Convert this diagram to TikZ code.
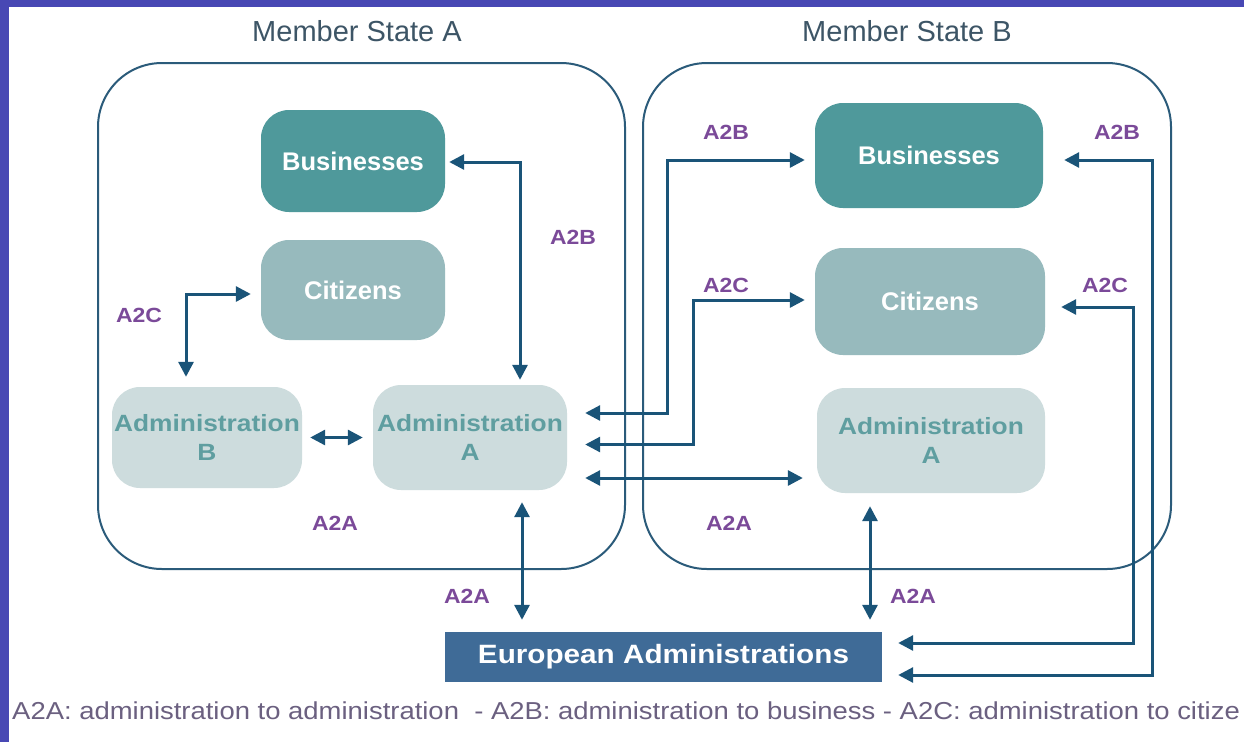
\documentclass[tikz,border=0pt]{standalone}
\usepackage{fontspec}
\setmainfont{Liberation Sans}
\newfontfamily\widefont{Liberation Sans}[FakeStretch=1.12]
\usetikzlibrary{arrows.meta,calc}
\definecolor{frameblue}{HTML}{4848B4}
\definecolor{stateline}{HTML}{2B5B7A}
\definecolor{busfill}{HTML}{4F999B}
\definecolor{citfill}{HTML}{97BABD}
\definecolor{admfill}{HTML}{CDDCDD}
\definecolor{admtext}{HTML}{5F9EA0}
\definecolor{arrowblue}{HTML}{1A5478}
\definecolor{labpurple}{HTML}{7B4A99}
\definecolor{eurfill}{HTML}{3F6B97}
\definecolor{titlegray}{HTML}{3D5566}
\definecolor{footgray}{HTML}{6B6080}
\tikzset{
  box/.style={rounded corners=28pt, inner sep=0pt, align=center},
  busbox/.style={box, fill=busfill, text=white, font=\fontsize{25.5}{30}\selectfont\bfseries},
  citbox/.style={box, fill=citfill, text=white, font=\fontsize{25.5}{30}\selectfont\bfseries},
  admbox/.style={box, fill=admfill, text=admtext, font=\widefont\fontsize{23.5}{29}\selectfont\bfseries},
  statebox/.style={draw=stateline, line width=2pt, rounded corners=64pt, inner sep=0pt},
  lab/.style={text=labpurple, font=\widefont\fontsize{20.5}{21}\selectfont\bfseries, inner sep=0pt},
  title/.style={text=titlegray, font=\fontsize{29}{30}\selectfont, inner sep=0pt},
  conn/.style={draw=arrowblue, line width=3pt, {Triangle[length=15pt,width=15pt]}-{Triangle[length=15pt,width=15pt]}},
}
\begin{document}
\begin{tikzpicture}[x=1pt,y=-1pt]
\useasboundingbox (0,0) rectangle (1244,742);
\fill[white] (0,0) rectangle (1244,742);
\fill[frameblue] (0,0) rectangle (9,742);
\fill[frameblue] (0,0) rectangle (1244,7);

% titles
\node[title] (tA) at (357,31) {Member State A};
\node[title] (tB) at (907,31) {Member State B};

% member state containers
\node[statebox, minimum width=527pt, minimum height=506pt] (stA) at (361.5,316) {};
\node[statebox, minimum width=528pt, minimum height=506pt] (stB) at (907,316) {};

% state A boxes
\node[busbox, minimum width=184pt, minimum height=102pt] (busA) at (353,161) {Businesses};
\node[citbox, minimum width=184pt, minimum height=100pt] (citA) at (353,290) {Citizens};
\node[admbox, minimum width=190pt, minimum height=101pt] (admB) at (207,437.5) {Administration\\B};
\node[admbox, minimum width=194pt, minimum height=105pt] (admA) at (470,437.5) {Administration\\A};

% state B boxes
\node[busbox, minimum width=228pt, minimum height=105pt] (busB) at (929,155.5) {Businesses};
\node[citbox, minimum width=230pt, minimum height=107pt] (citB) at (930,301.5) {Citizens};
\node[admbox, minimum width=228pt, minimum height=105pt] (admBB) at (931,440.5) {Administration\\A};

% European administrations
\node[fill=eurfill, text=white, font=\widefont\fontsize{26.5}{28}\selectfont\bfseries, minimum width=437pt, minimum height=50pt, inner sep=0pt] (eur) at (663.5,657) {European Administrations};

% connectors inside state A
\draw[conn, shorten <=10pt, shorten >=10pt] ($(citA.west)+(0,4)$) -| ($(admB.north)+(-21,0)$);
\draw[conn, shorten <=4pt, shorten >=5pt] ($(busA.east)+(0,1)$) -| ($(admA.north)+(50,0)$);
\draw[conn, shorten <=8pt, shorten >=10pt] (admB.east) -- (admA.west);

% to European administrations
\coordinate (vA) at ($(admA.south)+(52,0)$);
\coordinate (vB) at ($(admBB.south)+(-61,0)$);
\draw[conn, shorten <=12pt, shorten >=12pt] (vA) -- (vA |- eur.north);
\draw[conn, shorten <=13pt, shorten >=12pt] (vB) -- (vB |- eur.north);

% cross-border connectors
\draw[conn, shorten <=18pt, shorten >=10pt] ($(admA.east)+(0,-24.5)$) -| ($(busB.west)+(-147,4.5)$) -- ($(busB.west)+(0,4.5)$);
\draw[conn, shorten <=18pt, shorten >=10pt] ($(admA.east)+(0,7)$) -| ($(citB.west)+(-121,-1.5)$) -- ($(citB.west)+(0,-1.5)$);
\draw[conn, shorten <=18pt, shorten >=14pt] ($(admA.east)+(0,40.5)$) -- ($(admBB.west)+(0,37.5)$);

% right side to European administrations
\draw[conn, shorten <=21pt, shorten >=16pt] ($(busB.east)+(0,4.5)$) -| ($(eur.east)+(270,18)$) -- ($(eur.east)+(0,18)$);
\draw[conn, shorten <=16pt, shorten >=16pt] ($(citB.east)+(0,5.5)$) -| ($(eur.east)+(251,-14)$) -- ($(eur.east)+(0,-14)$);

% labels
\node[lab] (l1) at (573,237) {A2B};
\node[lab] (l2) at (139,315) {A2C};
\node[lab] (l3) at (335,523) {A2A};
\node[lab] (l4) at (467,596) {A2A};
\node[lab] (l5) at (726,132) {A2B};
\node[lab] (l6) at (726,285) {A2C};
\node[lab] (l7) at (729,523) {A2A};
\node[lab] (l8) at (1117,132) {A2B};
\node[lab] (l9) at (1105,285) {A2C};
\node[lab] (l10) at (913,596) {A2A};

% footer
\node[anchor=base west, inner sep=0pt, text=footgray, font=\widefont\fontsize{24.5}{26}\selectfont] (foot) at (12,719) {A2A: administration to administration\ \ - A2B: administration to business - A2C: administration to citize};
\end{tikzpicture}
\end{document}
